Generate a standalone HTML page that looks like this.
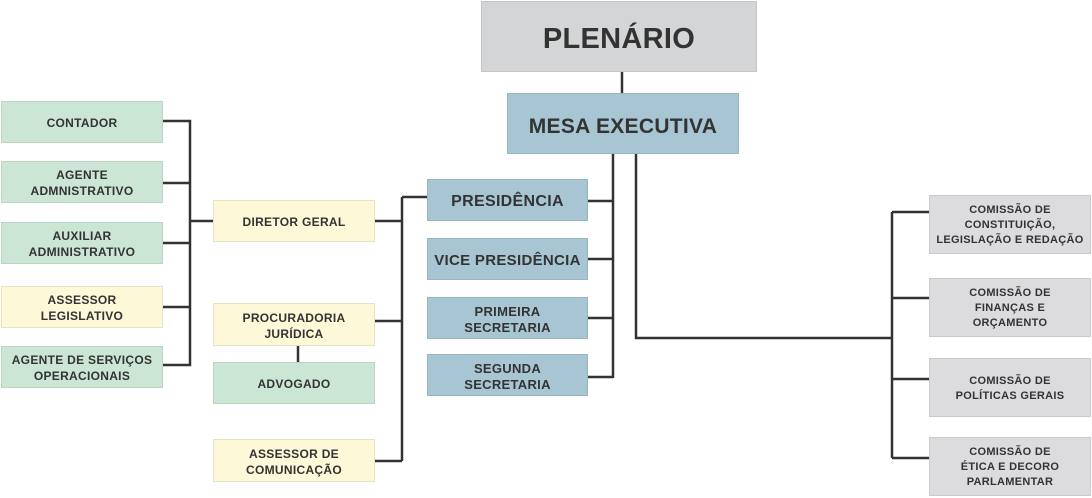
<!DOCTYPE html>
<html><head><meta charset="utf-8"><style>
body{margin:0;width:1092px;height:498px;background:#fff;position:relative;overflow:hidden;font-family:"Liberation Sans",sans-serif;font-weight:bold;color:#333}
.b{position:absolute;box-sizing:border-box;display:flex;align-items:center;justify-content:center;text-align:center;line-height:16px;font-size:12px;letter-spacing:0.3px;padding-top:2px}
.g{background:#cce6d6;border:1.5px solid #bcd4c5}
.y{background:#fdf9d8;border:1.5px solid #e6e2c4}
.u{background:#a8c5d3;border:1.5px solid #98b5c3;font-size:16px;padding-top:4px}
.r{background:#dcdcde;border:1.5px solid #cacacc;font-size:11px;line-height:15px}
svg{position:absolute;left:0;top:0}
</style></head><body>
<svg width="1092" height="498"><g stroke="#333" stroke-width="2.5" fill="none">
<path d="M622 72V93"/>
<path d="M613 154V378M588 201H613M588 259H613M588 318H613M588 377H613"/>
<path d="M636 154V338H892M892 212V458M892 212H929M892 298H929M892 379H929M892 458H929"/>
<path d="M402 197V461M402 197H427M375 221H402M375 321H402M375 461H402"/>
<path d="M298 346V362"/>
<path d="M163 121H190V365H163M163 183H190M163 243H190M163 307H190M190 221H213"/>
</g></svg>
<div class="b" style="left:481px;top:1px;width:276px;height:71px;background:#d4d5d7;border:1.5px solid #c4c5c7;font-size:29px;padding-top:5px">PLENÁRIO</div>
<div class="b u" style="left:507px;top:93px;width:232px;height:61px;font-size:21px;padding-top:6px">MESA EXECUTIVA</div>
<div class="b u" style="left:427px;top:179px;width:161px;height:42px">PRESIDÊNCIA</div>
<div class="b u" style="left:427px;top:238px;width:161px;height:42px;font-size:15px">VICE PRESIDÊNCIA</div>
<div class="b u" style="left:427px;top:297px;width:161px;height:42px;font-size:13px">PRIMEIRA<br>SECRETARIA</div>
<div class="b u" style="left:427px;top:354px;width:161px;height:42px;font-size:13px">SEGUNDA<br>SECRETARIA</div>
<div class="b y" style="left:213px;top:200px;width:162px;height:42px">DIRETOR GERAL</div>
<div class="b y" style="left:213px;top:303px;width:162px;height:43px">PROCURADORIA<br>JURÍDICA</div>
<div class="b g" style="left:213px;top:362px;width:162px;height:42px">ADVOGADO</div>
<div class="b y" style="left:213px;top:439px;width:162px;height:43px">ASSESSOR DE<br>COMUNICAÇÃO</div>
<div class="b g" style="left:1px;top:101px;width:162px;height:42px">CONTADOR</div>
<div class="b g" style="left:1px;top:161px;width:162px;height:42px">AGENTE<br>ADMNISTRATIVO</div>
<div class="b g" style="left:1px;top:222px;width:162px;height:42px">AUXILIAR<br>ADMINISTRATIVO</div>
<div class="b y" style="left:1px;top:286px;width:162px;height:42px">ASSESSOR<br>LEGISLATIVO</div>
<div class="b g" style="left:1px;top:346px;width:162px;height:42px">AGENTE DE SERVIÇOS<br>OPERACIONAIS</div>
<div class="b r" style="left:929px;top:195px;width:162px;height:59px">COMISSÃO DE<br>CONSTITUIÇÃO,<br>LEGISLAÇÃO E REDAÇÃO</div>
<div class="b r" style="left:929px;top:278px;width:162px;height:59px">COMISSÃO DE<br>FINANÇAS E<br>ORÇAMENTO</div>
<div class="b r" style="left:929px;top:358px;width:162px;height:59px">COMISSÃO DE<br>POLÍTICAS GERAIS</div>
<div class="b r" style="left:929px;top:437px;width:162px;height:59px">COMISSÃO DE<br>ÉTICA E DECORO<br>PARLAMENTAR</div>
</body></html>
